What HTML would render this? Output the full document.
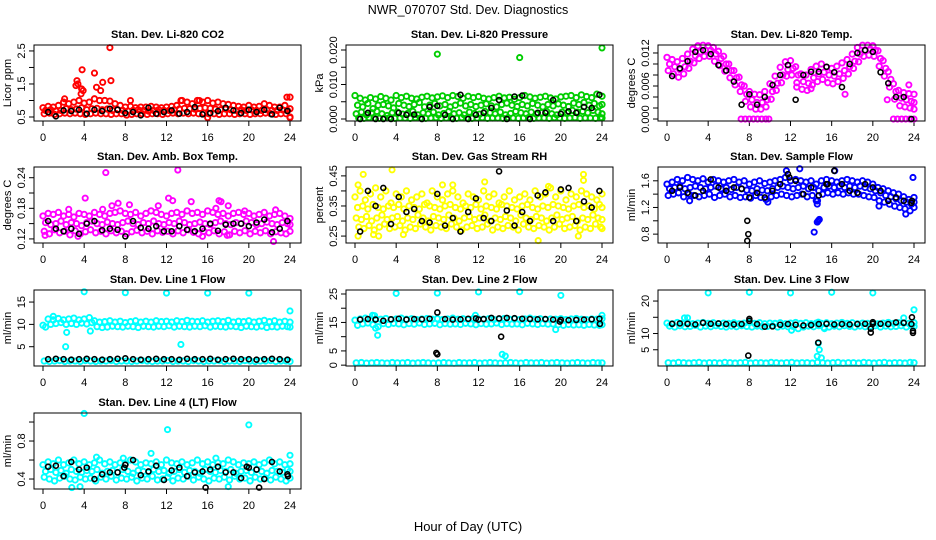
<!DOCTYPE html>
<html><head><meta charset="utf-8">
<style>
html,body{margin:0;padding:0;background:#fff;}
svg{display:block;font-family:"Liberation Sans",Arial,sans-serif;}
</style></head>
<body>
<svg id="chart" width="936" height="540" viewBox="0 0 936 540" xmlns="http://www.w3.org/2000/svg">
<rect width="936" height="540" fill="#fff"/>
<text x="468" y="14" font-size="12.5" text-anchor="middle">NWR_070707  Std. Dev. Diagnostics</text>
<text x="468" y="531" font-size="13" text-anchor="middle">Hour of Day (UTC)</text>
<g id="plots"></g>
</svg>
<script>
// ---------- DATA ----------
const xTicks = [0,4,8,12,16,20,24];
const blackHours = [0.5,1.25,2,2.75,3.5,4.25,5,5.75,6.5,7.25,8,8.75,9.5,10.25,11,11.75,12.5,13.25,14,14.75,15.5,16.25,17,17.75,18.5,19.25,20,20.75,21.5,22.25,23,23.75];
const cloudHours = [0,0.5,1,1.5,2,2.5,3,3.5,4,4.5,5,5.5,6,6.5,7,7.5,8,8.5,9,9.5,10,10.5,11,11.5,12,12.5,13,13.5,14,14.5,15,15.5,16,16.5,17,17.5,18,18.5,19,19.5,20,20.5,21,21.5,22,22.5,23,23.5,24];

// CO2
const co2A = [0.78,0.82,0.8,0.85,0.95,0.9,0.95,1.0,0.92,0.95,1.05,1.0,1.0,0.98,0.9,0.85,0.8,0.82,0.78,0.8,0.8,0.82,0.8,0.78,0.8,0.82,0.85,1.0,0.95,0.9,1.0,0.95,1.0,0.92,0.95,0.9,0.88,0.85,0.82,0.8,0.85,0.8,0.82,0.9,0.85,0.8,0.8,0.85,1.1];
const co2B = [0.7,0.72,0.68,0.7,0.75,0.72,0.74,0.78,0.72,0.75,0.76,0.72,0.74,0.7,0.72,0.7,0.68,0.7,0.72,0.7,0.68,0.7,0.72,0.7,0.7,0.72,0.74,0.76,0.75,0.74,0.76,0.78,0.76,0.74,0.72,0.74,0.72,0.7,0.72,0.7,0.72,0.7,0.7,0.72,0.7,0.7,0.72,0.7,0.75];
const co2C = [0.6,0.62,0.58,0.6,0.62,0.6,0.62,0.6,0.58,0.6,0.62,0.6,0.6,0.58,0.6,0.6,0.56,0.58,0.6,0.6,0.58,0.6,0.6,0.58,0.6,0.62,0.6,0.62,0.6,0.62,0.6,0.62,0.6,0.6,0.58,0.6,0.6,0.58,0.6,0.6,0.58,0.6,0.6,0.62,0.6,0.58,0.6,0.6,0.5];
const co2Out = [[3.3,1.6],[3.2,1.45],[3.4,1.5],[3.8,1.93],[3.7,1.2],[3.75,1.35],[3.9,1.3],[5.0,1.83],[5.2,1.4],[5.6,1.3],[5.8,1.55],[6.5,2.6],[6.6,1.6],[2.1,1.05],[8.5,1.0],[13.4,1.0],[15.2,1.0],[23.7,1.1],[16,0.48],[24,0.48]];
const co2Black = [0.65,0.52,0.7,0.68,0.72,0.6,0.72,0.68,0.75,0.72,0.62,0.65,0.55,0.78,0.6,0.65,0.7,0.6,0.65,0.8,0.58,0.62,0.68,0.78,0.7,0.62,0.72,0.65,0.72,0.58,0.78,0.68];

// Pressure
const prA = [0.0068,0.006,0.0055,0.0062,0.0058,0.0065,0.006,0.0055,0.0068,0.0062,0.0066,0.006,0.0058,0.0063,0.0066,0.0061,0.0064,0.0067,0.0062,0.0068,0.0065,0.006,0.0066,0.0062,0.0065,0.006,0.0058,0.0062,0.0066,0.0061,0.0063,0.0057,0.0062,0.0068,0.0064,0.006,0.0063,0.0066,0.0061,0.0058,0.0064,0.0066,0.0068,0.0062,0.007,0.0065,0.0062,0.0072,0.0066];
const prB = [0.004,0.0035,0.0045,0.003,0.004,0.0042,0.0038,0.0032,0.0045,0.004,0.0036,0.0042,0.0048,0.0035,0.004,0.0045,0.0038,0.0042,0.0035,0.004,0.0046,0.0038,0.0042,0.0036,0.004,0.0044,0.0038,0.0035,0.0042,0.0046,0.004,0.0036,0.0042,0.0038,0.0045,0.004,0.0035,0.0042,0.0038,0.0044,0.004,0.0036,0.0046,0.0042,0.0048,0.004,0.0045,0.0038,0.0042];
const prC = [0.0015,0.002,0.0012,0.0018,0.0022,0.0015,0.001,0.0018,0.002,0.0014,0.0016,0.0022,0.0012,0.0018,0.0015,0.002,0.0012,0.0016,0.0022,0.0015,0.0018,0.0012,0.002,0.0016,0.0014,0.0022,0.0018,0.0015,0.002,0.0012,0.0016,0.0022,0.0018,0.0015,0.002,0.0014,0.0018,0.0022,0.0015,0.0012,0.002,0.0018,0.0025,0.002,0.0022,0.0018,0.0025,0.002,0.0015];
const prD = [0.0003,0.0002,0.0004,0.0003,0.0002,0.0003,0.0004,0.0002,0.0003,0.0003,0.0002,0.0004,0.0003,0.0002,0.0003,0.0004,0.0002,0.0003,0.0003,0.0002,0.0004,0.0003,0.0002,0.0003,0.0004,0.0002,0.0003,0.0003,0.0002,0.0004,0.0003,0.0002,0.0003,0.0004,0.0002,0.0003,0.0003,0.0002,0.0004,0.0003,0.0002,0.0003,0.0004,0.0002,0.0003,0.0003,0.0002,0.0004,0.0003];
const prOut = [[8.0,0.0188],[16.0,0.0178],[24,0.0206]];
const prBlack = [0,0.0018,0,0,0,0.0018,0.0012,0.0013,0,0.0035,0.0038,0.0012,0,0.007,0,0.0012,0.0018,0.0032,0.0055,0,0.0065,0.0068,0,0.0018,0.0018,0.0055,0.0015,0.0022,0.0018,0.0035,0.0032,0.007];

// Li-820 temperature
const tmU = [0.0112,0.0108,0.0104,0.0110,0.0118,0.0127,0.0133,0.0134,0.0133,0.0130,0.0123,0.0114,0.0100,0.0088,0.0076,0.0060,0.0050,0.0045,0.0044,0.0050,0.0064,0.0078,0.0094,0.0104,0.0106,0.0095,0.0082,0.0080,0.0090,0.0096,0.0100,0.0094,0.0092,0.0096,0.0102,0.0108,0.0118,0.0130,0.0134,0.0134,0.0133,0.0124,0.0106,0.0086,0.0064,0.0052,0.0048,0.0046,0.0045];
const tmC = [0.0100,0.0095,0.0090,0.0095,0.0105,0.0115,0.0122,0.0125,0.0125,0.0118,0.0110,0.0100,0.0088,0.0075,0.0062,0.0045,0.0035,0.0030,0.0030,0.0035,0.0050,0.0065,0.0080,0.0090,0.0092,0.0080,0.0068,0.0065,0.0075,0.0082,0.0085,0.0080,0.0078,0.0082,0.0088,0.0095,0.0105,0.0118,0.0125,0.0127,0.0125,0.0110,0.0092,0.0072,0.0050,0.0038,0.0035,0.0032,0.0030];
const tmL = [0.0088,0.0082,0.0076,0.0082,0.0092,0.0102,0.0110,0.0114,0.0114,0.0105,0.0097,0.0087,0.0075,0.0062,0.0050,0.0032,0.0022,0.0018,0.0018,0.0022,0.0036,0.0052,0.0066,0.0078,0.0080,0.0066,0.0054,0.0052,0.0062,0.0068,0.0072,0.0066,0.0064,0.0068,0.0074,0.0082,0.0092,0.0104,0.0114,0.0116,0.0114,0.0096,0.0078,0.0058,0.0036,0.0024,0.0022,0.0020,0.0018];
const tmOut = [[7.2,0],[7.6,0],[8.0,0],[8.4,0],[8.8,0],[9.2,0],[9.6,0],[9.9,0],[22.0,0],[22.4,0],[22.8,0],[23.2,0],[23.6,0],[24,0],[12.6,0.0058],[14,0.0055],[17.3,0.0045],[21.4,0.0035],[23.5,0.0062]];
const tmBlack = [0.0078,0.0092,0.0105,0.0122,0.0125,0.0118,0.0098,0.0088,0.0068,0.0026,0.0045,0.0026,0.0040,0.0062,0.0080,0.0098,0.0035,0.0080,0.0086,0.0086,0.0095,0.0085,0.0058,0.0100,0.0120,0.0125,0.0122,0.0085,0.0065,0.0040,0.0040,0.0000];

// Ambient box temperature
const abU = [0.165,0.17,0.168,0.172,0.165,0.168,0.163,0.17,0.168,0.165,0.172,0.168,0.165,0.17,0.172,0.175,0.17,0.168,0.172,0.165,0.17,0.175,0.172,0.168,0.165,0.17,0.172,0.168,0.175,0.17,0.172,0.168,0.175,0.172,0.168,0.17,0.165,0.17,0.172,0.168,0.17,0.165,0.168,0.172,0.165,0.168,0.17,0.165,0.16];
const abM = [0.152,0.148,0.15,0.155,0.148,0.152,0.15,0.146,0.152,0.155,0.15,0.148,0.153,0.15,0.148,0.152,0.155,0.15,0.148,0.152,0.15,0.155,0.15,0.148,0.152,0.15,0.155,0.152,0.148,0.15,0.153,0.15,0.148,0.152,0.155,0.15,0.148,0.152,0.15,0.155,0.152,0.148,0.15,0.153,0.15,0.148,0.152,0.15,0.148];
const abL = [0.135,0.13,0.138,0.132,0.135,0.128,0.136,0.13,0.134,0.138,0.132,0.135,0.13,0.136,0.132,0.135,0.13,0.134,0.137,0.132,0.135,0.13,0.136,0.133,0.135,0.13,0.136,0.132,0.138,0.133,0.13,0.135,0.132,0.136,0.13,0.134,0.128,0.135,0.132,0.136,0.13,0.135,0.132,0.136,0.13,0.134,0.132,0.13,0.135];
const abOut = [[6.1,0.25],[13.1,0.255],[4.1,0.2],[12.2,0.2],[12.6,0.195],[17.1,0.195],[17.3,0.193],[7.3,0.19],[8.4,0.187],[14.4,0.193],[2.5,0.178],[5.8,0.178],[6.7,0.185],[16.8,0.18],[22.4,0.115],[0.2,0.127],[3.4,0.125],[18,0.185],[22.6,0.177],[19.6,0.175],[11.2,0.185],[15.5,0.125],[17.9,0.127]];
const abBlack = [0.155,0.14,0.135,0.14,0.13,0.15,0.155,0.137,0.14,0.138,0.125,0.155,0.142,0.14,0.145,0.135,0.135,0.145,0.138,0.135,0.14,0.15,0.136,0.148,0.15,0.15,0.145,0.152,0.158,0.133,0.14,0.155];

// Gas stream RH
const rh1 = [0.38,0.4,0.37,0.39,0.41,0.38,0.4,0.36,0.39,0.38,0.4,0.37,0.38,0.39,0.36,0.4,0.38,0.37,0.39,0.4,0.38,0.36,0.39,0.38,0.37,0.4,0.38,0.39,0.36,0.38,0.4,0.37,0.38,0.39,0.37,0.4,0.38,0.39,0.41,0.38,0.4,0.37,0.39,0.38,0.4,0.39,0.38,0.37,0.39];
const rh2 = [0.345,0.35,0.34,0.355,0.345,0.34,0.35,0.345,0.355,0.34,0.35,0.345,0.34,0.355,0.35,0.345,0.34,0.35,0.355,0.345,0.34,0.35,0.345,0.355,0.34,0.35,0.345,0.34,0.355,0.35,0.345,0.34,0.35,0.355,0.345,0.34,0.35,0.345,0.355,0.35,0.345,0.34,0.35,0.355,0.345,0.35,0.34,0.355,0.345];
const rh3 = [0.31,0.305,0.315,0.3,0.31,0.32,0.305,0.31,0.315,0.3,0.31,0.305,0.32,0.31,0.3,0.315,0.31,0.305,0.32,0.31,0.3,0.31,0.315,0.305,0.31,0.32,0.3,0.31,0.305,0.315,0.31,0.3,0.32,0.31,0.305,0.315,0.31,0.3,0.31,0.32,0.305,0.31,0.315,0.3,0.31,0.305,0.32,0.31,0.305];
const rh4 = [0.28,0.275,0.285,0.27,0.28,0.29,0.275,0.28,0.285,0.27,0.28,0.275,0.29,0.28,0.27,0.285,0.28,0.275,0.29,0.28,0.27,0.28,0.285,0.275,0.28,0.29,0.27,0.28,0.275,0.285,0.28,0.27,0.29,0.28,0.275,0.285,0.28,0.27,0.28,0.29,0.275,0.28,0.285,0.27,0.28,0.275,0.29,0.28,0.275];
const rhOut = [[0.3,0.42],[0.8,0.455],[3.6,0.47],[8.5,0.42],[12.6,0.43],[22.2,0.455],[22.2,0.435],[0.3,0.25],[17.8,0.235],[1.8,0.255],[21.7,0.25],[4.7,0.255],[2.3,0.25],[9.5,0.42],[18.8,0.415]];
const rhBlack = [0.265,0.4,0.35,0.41,0.29,0.38,0.33,0.34,0.3,0.295,0.39,0.285,0.31,0.265,0.33,0.375,0.31,0.3,0.465,0.335,0.285,0.33,0.3,0.385,0.395,0.3,0.405,0.41,0.3,0.365,0.345,0.4];

// Sample flow
const sfU = [1.55,1.58,1.62,1.6,1.65,1.62,1.6,1.63,1.58,1.62,1.6,1.58,1.6,1.62,1.58,1.6,1.55,1.58,1.6,1.56,1.58,1.6,1.62,1.65,1.6,1.62,1.6,1.58,1.6,1.55,1.6,1.62,1.6,1.58,1.6,1.62,1.6,1.58,1.6,1.58,1.55,1.5,1.48,1.45,1.42,1.4,1.36,1.32,1.35];
const sfM = [1.48,1.5,1.52,1.48,1.5,1.52,1.5,1.48,1.5,1.52,1.48,1.5,1.47,1.5,1.48,1.46,1.45,1.48,1.46,1.45,1.48,1.5,1.52,1.5,1.48,1.5,1.52,1.48,1.5,1.45,1.5,1.52,1.5,1.52,1.5,1.52,1.5,1.52,1.5,1.48,1.45,1.42,1.38,1.36,1.33,1.3,1.28,1.25,1.28];
const sfL = [1.38,1.4,1.42,1.36,1.4,1.38,1.36,1.38,1.4,1.35,1.38,1.4,1.36,1.38,1.35,1.36,1.34,1.38,1.35,1.32,1.36,1.38,1.4,1.38,1.36,1.38,1.4,1.36,1.38,1.3,1.4,1.42,1.4,1.42,1.4,1.42,1.4,1.4,1.38,1.36,1.35,1.3,1.28,1.25,1.22,1.2,1.18,1.15,1.2];
const sfOut = [[14.3,0.83],[14.7,1.0],[14.8,1.02],[14.6,0.98],[12.9,1.78],[11.6,1.75],[16.3,1.75],[23.9,1.65],[14.5,1.3],[14.6,1.25],[2.2,1.3],[9.8,1.28],[20.6,1.22],[23.2,1.1]];
const sfBlack = [1.45,1.5,1.42,1.38,1.45,1.62,1.5,1.45,1.5,1.48,1.35,1.42,1.35,1.45,1.55,1.7,1.6,1.4,1.5,1.38,1.55,1.75,1.55,1.45,1.42,1.55,1.5,1.45,1.3,1.35,1.3,1.27];
const sfBlackOut = [[7.8,1.0],[7.9,0.8],[7.8,0.7],[11.9,1.65],[15.6,1.55],[23.8,1.3]];

// Line 1 flow
const l1A = [9.8,11.2,11.0,11.3,11.0,11.2,11.4,11.0,11.2,11.5,10.8,10.5,10.6,10.8,10.5,10.7,10.4,10.6,10.8,10.5,10.7,10.5,10.8,10.6,10.7,10.5,10.8,10.6,10.9,10.7,10.6,10.8,10.5,10.7,10.8,10.6,10.9,10.5,10.7,10.6,10.8,10.5,10.7,10.9,10.6,10.8,10.5,10.7,10.5];
const l1B = [9.4,10.0,10.2,10.4,10.0,10.2,10.0,10.3,10.1,10.4,9.5,9.3,9.4,9.6,9.5,9.4,9.6,9.5,9.3,9.6,9.5,9.4,9.6,9.5,9.7,9.4,9.6,9.5,9.4,9.6,9.5,9.7,9.4,9.6,9.5,9.4,9.6,9.5,9.3,9.6,9.5,9.4,9.6,9.3,9.5,9.4,9.6,9.5,9.4];
const l1C = [1.8,1.7,1.8,1.9,1.7,1.8,1.8,1.7,1.9,1.8,1.7,1.8,1.8,1.9,1.7,1.8,1.8,1.7,1.8,1.9,1.8,1.7,1.8,1.8,1.9,1.7,1.8,1.8,1.7,1.9,1.8,1.7,1.8,1.8,1.9,1.7,1.8,1.8,1.7,1.9,1.8,1.7,1.8,1.8,1.9,1.7,1.8,1.8,1.7];
const l1Out = [[4,17.3],[8,17.1],[12,17],[16,17],[20,17],[24,13],[2.2,5],[2.3,8.2],[4.6,8.5],[13.4,5.5],[1.0,11.8]];
const l1Black = [2.2,2.3,2.2,2.1,2.2,2.3,2.2,2.1,2.2,2.3,2.4,2.2,2.1,2.2,2.3,2.2,2.2,2.1,2.3,2.2,2.2,2.3,2.1,2.2,2.3,2.2,2.2,2.1,2.2,2.3,2.2,2.1];

// Line 2 flow
const l2A = [15.8,16.2,16.5,16.0,16.3,16.1,16.4,16.0,16.2,16.5,16.1,16.3,16.0,16.2,16.4,16.1,16.3,16.0,16.2,16.5,16.1,16.3,16.0,16.4,16.2,16.1,16.3,16.0,16.2,16.4,16.1,16.3,16.0,16.2,16.5,16.1,16.3,16.0,16.2,16.1,16.3,16.0,16.2,16.4,16.1,16.0,16.2,16.1,16.3];
const l2B = [14.0,14.5,14.8,14.2,13.5,14.6,14.3,14.7,14.5,14.2,14.6,14.4,14.8,14.3,14.5,14.7,14.2,14.6,14.4,14.5,14.3,14.7,14.5,14.2,14.6,14.4,14.5,14.8,14.3,14.6,14.4,14.5,14.2,14.7,14.5,14.3,14.6,14.4,14.5,14.2,14.0,14.3,14.1,14.2,14.0,14.3,14.1,14.0,14.2];
const l2C = [0.8,0.9,0.7,0.8,0.9,0.8,0.7,0.9,0.8,0.8,0.9,0.7,0.8,0.9,0.8,0.7,0.8,0.9,0.8,0.7,0.9,0.8,0.8,0.9,0.7,0.8,0.9,0.8,0.7,0.8,0.9,0.8,0.7,0.9,0.8,0.8,0.9,0.7,0.8,0.9,0.8,0.7,0.8,0.9,0.8,0.7,0.9,0.8,0.8];
const l2Out = [[4,25.2],[8,25.3],[12,25.7],[16,25.8],[20,24.5],[1.7,17.5],[1.9,17.4],[2.2,10.5],[19.5,12.5],[14.3,3.8],[14.6,3.2],[11.7,17.5],[24,17.5],[2.0,13.0]];
const l2Black = [16.0,16.2,16.0,15.6,16.1,16.3,16.0,16.2,16.1,16.3,18.5,16.2,16.0,16.1,16.3,16.4,16.2,16.6,16.4,16.6,16.5,16.3,16.2,16.1,16.2,16.0,15.9,15.8,15.9,16.0,16.1,16.3];
const l2BlackOut = [[7.9,4.3],[8.0,3.8],[14.2,10],[23.8,14.5],[19.9,15.3],[12,16]];

// Line 3 flow
const l3A = [13.2,13.0,13.4,13.1,13.3,13.0,13.2,13.4,13.1,13.3,13.0,13.2,13.1,13.3,13.0,13.2,13.4,13.1,13.3,13.0,13.2,13.1,13.3,13.0,13.2,13.4,13.1,13.3,13.0,13.2,13.1,13.3,13.0,13.2,13.4,13.1,13.3,13.0,13.2,13.1,13.3,13.0,13.2,13.4,13.1,13.3,13.2,13.1,13.3];
const l3B = [12.3,12.0,12.4,12.1,12.2,12.5,12.0,12.3,12.1,12.4,12.2,12.0,12.3,12.1,12.4,12.2,12.0,12.3,12.1,12.2,12.4,12.0,12.3,12.1,12.2,11.5,12.0,12.3,12.1,12.4,11.8,12.0,12.3,12.1,12.4,12.2,12.0,12.3,12.1,12.2,12.4,12.0,12.3,12.1,12.2,12.4,12.0,12.3,12.2];
const l3C = [1.0,0.9,1.1,1.0,0.9,1.0,1.1,0.9,1.0,1.0,0.9,1.1,1.0,0.9,1.0,1.1,0.9,1.0,1.0,0.9,1.1,1.0,0.9,1.0,1.1,0.9,1.0,1.0,0.9,1.1,1.0,0.9,1.0,1.1,0.9,1.0,1.0,0.9,1.1,1.0,0.9,1.0,1.1,0.9,1.0,1.0,0.9,1.1,1.0];
const l3Out = [[4,22.5],[8,22.7],[12,22.5],[16,22.7],[20,22.5],[1.7,14.8],[2.0,14.8],[14.7,7],[14.8,5],[14.6,3],[15,2.5],[23,14.8],[24,17.3],[14.7,13.5],[12.1,11.0],[15.3,11.5]];
const l3Black = [13.0,13.1,13.0,12.8,13.3,13.0,13.1,12.9,12.8,12.9,13.9,12.9,12.1,12.2,12.7,12.9,12.7,12.5,12.6,12.9,13.0,12.8,12.9,12.8,12.9,13.0,13.0,13.0,12.9,13.4,13.3,12.9];
const l3BlackOut = [[8.0,14.5],[7.9,3.2],[14.7,7.2],[19.8,10.3],[19.8,11.5],[23.9,10.2],[23.9,10.8],[23.8,15],[20,13.5]];

// Line 4 (LT) flow
const l4A = [0.55,0.58,0.56,0.6,0.55,0.57,0.6,0.56,0.58,0.55,0.57,0.6,0.56,0.58,0.55,0.57,0.56,0.6,0.58,0.55,0.57,0.56,0.58,0.55,0.6,0.57,0.56,0.58,0.55,0.57,0.6,0.56,0.58,0.55,0.57,0.56,0.6,0.58,0.55,0.57,0.56,0.58,0.55,0.57,0.6,0.56,0.58,0.55,0.56];
const l4B = [0.48,0.5,0.47,0.49,0.46,0.5,0.48,0.47,0.49,0.48,0.5,0.46,0.48,0.49,0.47,0.5,0.48,0.46,0.49,0.48,0.47,0.5,0.48,0.49,0.46,0.48,0.5,0.47,0.49,0.48,0.46,0.5,0.48,0.47,0.49,0.48,0.5,0.46,0.48,0.49,0.47,0.5,0.48,0.46,0.49,0.48,0.47,0.5,0.48];
const l4C = [0.42,0.4,0.38,0.41,0.43,0.4,0.39,0.42,0.4,0.41,0.38,0.42,0.4,0.43,0.39,0.41,0.4,0.42,0.38,0.41,0.4,0.43,0.39,0.4,0.42,0.38,0.41,0.4,0.43,0.39,0.42,0.4,0.38,0.41,0.4,0.42,0.39,0.43,0.4,0.41,0.38,0.42,0.4,0.41,0.39,0.42,0.4,0.38,0.41];
const l4Out = [[4,1.09],[20,0.97],[12.1,0.92],[10.5,0.67],[24,0.65],[2.8,0.31],[3.6,0.32],[18,0.32],[5.2,0.63],[7.8,0.62],[16.8,0.62]];
const l4Black = [0.53,0.54,0.43,0.58,0.5,0.52,0.4,0.45,0.47,0.47,0.55,0.6,0.44,0.48,0.54,0.39,0.49,0.52,0.43,0.47,0.48,0.5,0.53,0.47,0.47,0.41,0.52,0.5,0.4,0.58,0.48,0.45];
const l4BlackOut = [[15.8,0.31],[21,0.31],[7.9,0.52],[23.8,0.43],[19.8,0.53]];

// ---------- DRAWING ----------
const NS = 'http://www.w3.org/2000/svg';
const root = document.getElementById('plots');
const colX = [34, 346, 658];
const rowY = [45, 167, 290, 413];
const BW = 267, BH = 76;
const rowOffsets = [0, 0.25, 0.12, 0.37];

const panels = [
 {key:'co2', title:'Stan. Dev. Li-820 CO2', ylab:'Licor ppm', col:0,row:0, ylim:[0.379,2.68], ticks:[0.5,1,1.5,2,2.5], labels:['0.5','','1.5','','2.5'], color:'#ff0000', rows:[co2A,co2B,co2C], out:co2Out, black:co2Black, blackOut:[]},
 {key:'pressure', title:'Stan. Dev. Li-820 Pressure', ylab:'kPa', col:1,row:0, ylim:[-0.00058,0.02145], ticks:[0,0.005,0.01,0.015,0.02], labels:['0.000','','0.010','','0.020'], color:'#00cd00', rows:[prA,prB,prC,prD], out:prOut, black:prBlack, blackOut:[]},
 {key:'temp', title:'Stan. Dev. Li-820 Temp.', ylab:'degrees C', col:2,row:0, ylim:[-0.00036,0.01345], ticks:[0,0.002,0.004,0.006,0.008,0.01,0.012], labels:['0.000','','','0.006','','','0.012'], color:'#ff00ff', rows:[tmU,tmC,tmL], out:tmOut, black:tmBlack, blackOut:[]},
 {key:'ambtemp', title:'Stan. Dev. Amb. Box Temp.', ylab:'degrees C', col:0,row:1, ylim:[0.112,0.261], ticks:[0.12,0.15,0.18,0.21,0.24], labels:['0.12','','0.18','','0.24'], color:'#ff00ff', rows:[abU,abM,abL], out:abOut, black:abBlack, blackOut:[]},
 {key:'rh', title:'Stan. Dev. Gas Stream RH', ylab:'percent', col:1,row:1, ylim:[0.227,0.4795], ticks:[0.25,0.3,0.35,0.4,0.45], labels:['0.25','','0.35','','0.45'], color:'#ffff00', rows:[rh1,rh2,rh3,rh4], out:rhOut, black:rhBlack, blackOut:[]},
 {key:'sampleflow', title:'Stan. Dev. Sample Flow', ylab:'ml/min', col:2,row:1, ylim:[0.667,1.807], ticks:[0.8,1.0,1.2,1.4,1.6], labels:['0.8','','1.2','','1.6'], color:'#0000ff', rows:[sfU,sfM,sfL], out:sfOut, black:sfBlack, blackOut:sfBlackOut},
 {key:'line1', title:'Stan. Dev. Line 1 Flow', ylab:'ml/min', col:0,row:2, ylim:[0.68,17.7], ticks:[5,10,15], labels:['5','10','15'], color:'#00ffff', rows:[l1A,l1B,l1C], out:l1Out, black:l1Black, blackOut:[]},
 {key:'line2', title:'Stan. Dev. Line 2 Flow', ylab:'ml/min', col:1,row:2, ylim:[-0.3,26.4], ticks:[0,5,10,15,20,25], labels:['0','5','','15','','25'], color:'#00ffff', rows:[l2A,l2B,l2C], out:l2Out, black:l2Black, blackOut:l2BlackOut},
 {key:'line3', title:'Stan. Dev. Line 3 Flow', ylab:'ml/min', col:2,row:2, ylim:[0,23.4], ticks:[5,10,15,20], labels:['5','10','','20'], color:'#00ffff', rows:[l3A,l3B,l3C], out:l3Out, black:l3Black, blackOut:l3BlackOut},
 {key:'line4', title:'Stan. Dev. Line 4 (LT) Flow', ylab:'ml/min', col:0,row:3, ylim:[0.295,1.095], ticks:[0.4,0.6,0.8,1.0], labels:['0.4','','0.8',''], color:'#00ffff', rows:[l4A,l4B,l4C], out:l4Out, black:l4Black, blackOut:l4BlackOut}
];

function mk(tag, attrs, parent){
  const e = document.createElementNS(NS, tag);
  for (const k in attrs) e.setAttribute(k, attrs[k]);
  parent.appendChild(e);
  return e;
}

panels.forEach(p => {
  const bx = colX[p.col], by = rowY[p.row];
  const g = mk('g', {}, root);
  
  
  const xs = h => bx + 9 + h * (247 / 24);
  const ys = v => by + BH - (v - p.ylim[0]) / (p.ylim[1] - p.ylim[0]) * BH;

  const t = mk('text', {x: bx + BW/2, y: by - 7, 'font-size': 11, 'font-weight': 'bold', 'text-anchor': 'middle'}, g);
  t.textContent = p.title;
  
  

  const yl = mk('text', {x: 0, y: 0, 'font-size': 11, 'text-anchor': 'middle', transform: `translate(${bx-23},${by+BH/2}) rotate(-90)`}, g);
  yl.textContent = p.ylab;
  
  

  const xa = mk('g', {stroke: '#000', 'stroke-width': 1}, g);
  
  
  xTicks.forEach(h => {
    mk('line', {x1: xs(h), x2: xs(h), y1: by+BH, y2: by+BH+5}, xa);
    const tl = mk('text', {x: xs(h), y: by+BH+20, 'font-size': 11, 'text-anchor': 'middle', stroke: 'none'}, xa);
    tl.textContent = h;
    
    
  });
  const ya = mk('g', {stroke: '#000', 'stroke-width': 1}, g);
  
  
  p.ticks.forEach((v, i) => {
    const yy = ys(v);
    mk('line', {x1: bx-5, x2: bx, y1: yy, y2: yy}, ya);
    if (p.labels[i]) {
      const tl = mk('text', {x: 0, y: 0, 'font-size': 11, 'text-anchor': 'middle', stroke: 'none', transform: `translate(${bx-9},${yy}) rotate(-90)`}, ya);
      tl.textContent = p.labels[i];
      
      
    }
  });

  const cg = mk('g', {fill: 'none', stroke: p.color, 'stroke-width': 1.9}, g);
  
  
  p.rows.forEach((arr, r) => {
    arr.forEach((v, i) => {
      const h = Math.min(24, cloudHours[i] + rowOffsets[r]);
      const c = mk('circle', {cx: xs(h), cy: ys(v), r: 2.7}, cg);
      
      
    });
  });
  p.out.forEach(d => {
    const c = mk('circle', {cx: xs(d[0]), cy: ys(d[1]), r: 2.6}, cg);
    
    
  });
  const kg = mk('g', {fill: 'none', stroke: '#000', 'stroke-width': 1.6}, g);
  
  
  p.black.forEach((v, i) => {
    const c = mk('circle', {cx: xs(blackHours[i]), cy: ys(v), r: 2.5}, kg);
    
    
  });
  p.blackOut.forEach(d => {
    const c = mk('circle', {cx: xs(d[0]), cy: ys(d[1]), r: 2.5}, kg);
    
    
  });

  const box = mk('rect', {x: bx, y: by, width: BW, height: BH, fill: 'none', stroke: '#000', 'stroke-width': 1}, g);
  
  
});
</script>
</body></html>
